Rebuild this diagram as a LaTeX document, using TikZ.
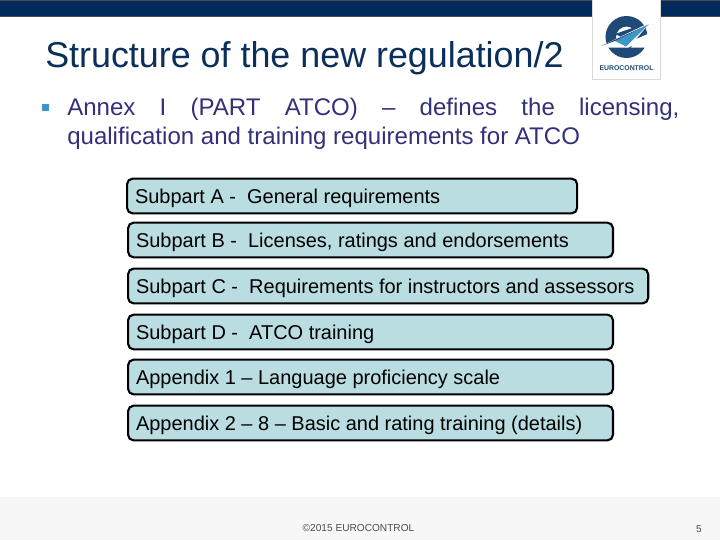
\documentclass[tikz,border=0pt]{standalone}
\usepackage{fontspec}
\setmainfont{Liberation Sans}
\definecolor{bandblue}{HTML}{002B5C}
\definecolor{titleblue}{HTML}{0B2F5B}
\definecolor{bodyblue}{HTML}{33307A}
\definecolor{bulletblue}{HTML}{3C96C8}
\definecolor{boxfill}{HTML}{B9DDE1}
\definecolor{logodark}{HTML}{1F4A78}
\definecolor{footgray}{HTML}{F7F7F7}
\tikzset{
  subbox/.style={draw=black, line width=1.5pt, fill=boxfill, rounded corners=4pt, anchor=west,
    minimum height=0.87cm, inner xsep=0.2cm, inner ysep=0pt, text=black, font=\fontsize{14.2}{16}\selectfont, align=flush left, text depth=0pt},
  foottext/.style={text=black!70, font=\fontsize{7.2}{9}\selectfont, inner sep=0pt}
}
\begin{document}
\begin{tikzpicture}[x=0.025cm,y=-0.025cm]
    \useasboundingbox (0,0) rectangle (720,540);
    % Banda y pie
    \draw[black!70, fill=bandblue] (-1,0.5) rectangle (721,16);
    \fill[footgray] (0,497) rectangle (720,540);
    \draw[black!15, fill=white] (592,-1) -- (592,79) -- (660,79) -- (660,-1);

    % Logo
    \fill[logodark, even odd rule] (626.5,37) circle (21) (626.5,37) circle (10.5);
    \fill[white] (636,39) -- (650,33) -- (650,47.5) -- (631,47.5) -- cycle;
    \fill[logodark] (615,34) -- (641,25) -- (645,30) -- (625,39) -- cycle;
    \fill[white] (650,22.5) -- (598,47.5) -- (629,47.5) -- cycle;
    \fill[bulletblue] (648.5,24.5) -- (615,41) -- (626,46.5) -- cycle;
    \fill[logodark] (648.5,24.5) -- (601,46) -- (615,41) -- cycle;
    \node[font=\bfseries\fontsize{4.9}{6}\selectfont, text=logodark, inner sep=0pt] (logotext) at (626.5,68) {EUROCONTROL};

    % Titulo y texto
    \node[anchor=west, inner sep=0pt, text=titleblue, font=\fontsize{25.5}{30}\selectfont] (title) at (45,58) {Structure of the new regulation/2};
    \fill[bulletblue] (42,104) rectangle (49,111);
    \node[anchor=north west, inner sep=0pt, text=bodyblue, text width=15.3cm, align=justify, font=\fontsize{17.1}{20.5}\selectfont] (annex) at (67,98)
      {Annex I (PART ATCO) -- defines the licensing,\linebreak qualification and training requirements for ATCO};

    % Cajas
    \node[subbox, text width=10.85cm] (suba) at (126,196) {Subpart A -\ \ General requirements};
    \node[subbox, text width=11.72cm] (subb) at (127,240) {Subpart B -\ \ Licenses, ratings and endorsements};
    \node[subbox, text width=12.6cm] (subc) at (127,286) {Subpart C -\ \ Requirements for instructors and assessors};
    \node[subbox, text width=11.72cm] (subd) at (127,332) {Subpart D -\ \ ATCO training};
    \node[subbox, text width=11.72cm] (appa) at (127,377) {Appendix 1 -- Language proficiency scale};
    \node[subbox, text width=11.72cm] (appb) at (127,423) {Appendix 2 -- 8 -- Basic and rating training (details)};

    % Pie
    \node[foottext] (copy) at (358.5,528) {©2015 EUROCONTROL};
    \node[foottext] (pagenum) at (699,529) {5};
\end{tikzpicture}
\end{document}
